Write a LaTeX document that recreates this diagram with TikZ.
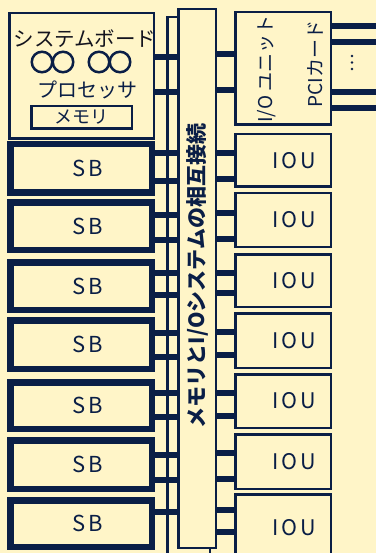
\documentclass[tikz,border=0pt]{standalone}
\usepackage{fontspec}
\setmainfont{Noto Sans CJK JP}
\definecolor{bg}{RGB}{255,245,200}
\definecolor{navy}{RGB}{10,30,70}
\definecolor{ink}{RGB}{20,20,30}
\begin{document}
\begin{tikzpicture}[x=1pt,y=-1pt,
  thinbox/.style={draw=navy,line width=2.5pt,fill=bg,inner sep=0pt,outer sep=0pt},
  sbbox/.style={draw=navy,line width=6.5pt,fill=bg,inner sep=0pt,outer sep=0pt,
    minimum width=141.5pt,text=navy,font=\fontsize{22}{22}\selectfont},
  ioubox/.style={thinbox,minimum width=95.5pt,text=navy,font=\fontsize{21.5}{21.5}\selectfont},
  ring/.style={circle,draw=navy,line width=2.5pt,minimum size=20.5pt,inner sep=0pt},
  conn/.style={draw=navy,line width=5.5pt},
  lbl/.style={text=navy,inner sep=0pt}
]
\useasboundingbox[fill=bg] (0,0) rectangle (376,553);

% interconnect (back and front)
\node[thinbox,minimum width=42.5pt,minimum height=557.5pt] (icback) at (188.5,296) {};
\node[thinbox,minimum width=37.5pt,minimum height=538.5pt] (ic) at (197,278.5) {};
\node[lbl,rotate=90,font=\fontsize{21}{21}\selectfont\bfseries] (ictext) at (197,276) {メモリとI/Oシステムの相互接続};

% system board
\node[thinbox,minimum width=144.5pt,minimum height=125.5pt] (sysb) at (81.5,76) {};
\node[inner sep=0pt,text=ink,font=\fontsize{20.5}{20.5}\selectfont] (sysbtitle) at (85,39) {システムボード};
\node[ring] (c1) at (42,62) {};
\node[ring] (c2) at (63,62) {};
\node[ring] (c3) at (99,62) {};
\node[ring] (c4) at (120,62) {};
\node[lbl,font=\fontsize{20}{20}\selectfont] (proc) at (87,90) {プロセッサ};
\node[thinbox,minimum width=100.5pt,minimum height=22.5pt,text=navy,font=\fontsize{18}{18}\selectfont] (mem) at (81.5,117.5) {メモリ};

\foreach \y in {57,92} \draw[conn] (sysb.east |- 0,\y) -- (ic.west |- 0,\y);

% SB boxes
\foreach \n/\c/\h in {1/168.5/48.5,2/226/47.5,3/286/47.5,4/344.5/48.5,5/405.5/46.5,6/464.5/48.5,7/523.5/46.5}
  \node[sbbox,minimum height=\h pt] (sb\n) at (81,\c) {\hspace*{14pt}S\hspace{3pt}B};

\foreach \n/\y in {1/153,1/181,2/215,2/240,3/273,3/295,4/333,4/357,5/393,5/417,6/455,6/480,7/512}
  \draw[conn] (sb\n.east |- 0,\y) -- (ic.west |- 0,\y);

% I/O unit
\node[thinbox,minimum width=95.5pt,minimum height=112.5pt] (iou0) at (283,68.5) {};
\node[lbl,rotate=90,font=\fontsize{19}{19}\selectfont] (iou0a) at (267,69) {I/O ユニット};
\node[lbl,rotate=90,font=\fontsize{19}{19}\selectfont] (iou0b) at (315,64) {PCIカード};
\foreach \y in {54,90} \draw[conn] (ic.east |- 0,\y) -- (iou0.west |- 0,\y);
\coordinate (rim) at (376,0);
\foreach \y in {26,42,92,108} \draw[conn] (iou0.east |- 0,\y) -- (rim |- 0,\y);
\foreach \y in {56,62.5,69} \fill[navy] (352,\y) circle (1.4pt);

% IOU boxes
\foreach \n/\c/\h in {1/160.5/52.5,2/220/53.5,3/280.5/52.5,4/340.5/54.5,5/401/53.5,6/461.5/54.5,7/527.5/66.5}
  \node[ioubox,minimum height=\h pt] (iou\n) at (283,\c) {\hspace*{22pt}I\hspace{3pt}O\hspace{3pt}U};

\foreach \n/\y in {1/153,1/179,2/213,2/239,3/273,3/293,4/332,4/355,5/393,5/416,6/453,6/479,7/510,7/532}
  \draw[conn] (ic.east |- 0,\y) -- (iou\n.west |- 0,\y);
\end{tikzpicture}
\end{document}
